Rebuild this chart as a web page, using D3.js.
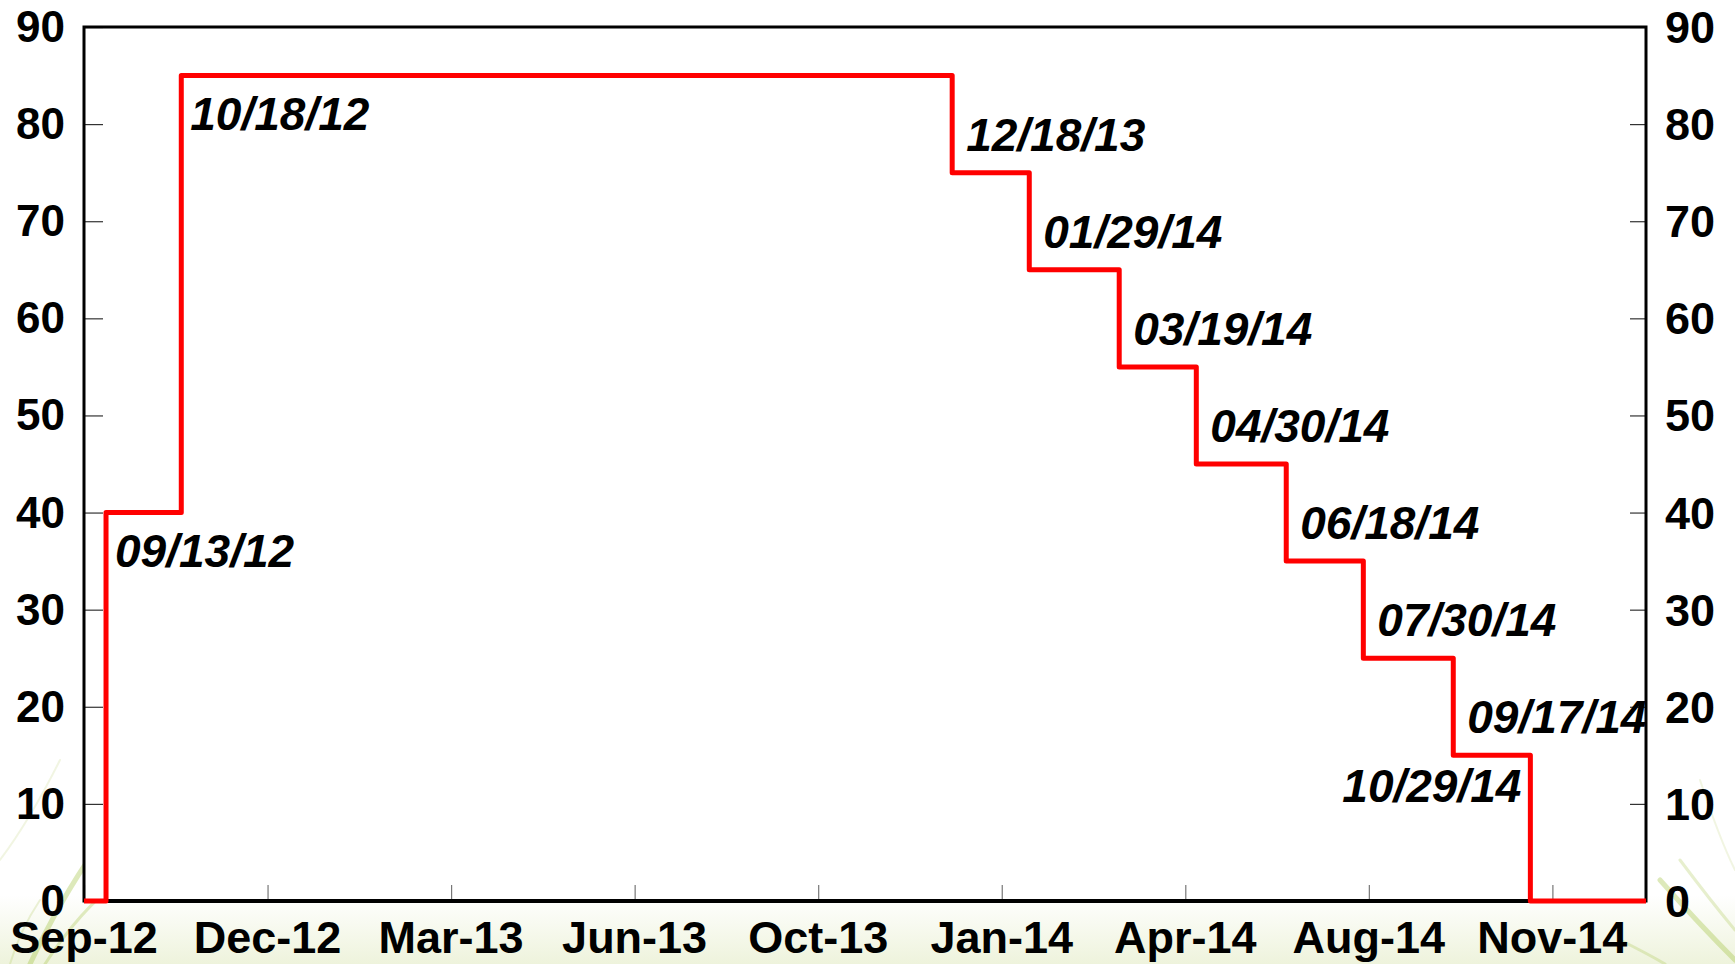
<!DOCTYPE html>
<html>
<head>
<meta charset="utf-8">
<script src="https://cdn.jsdelivr.net/npm/d3@7"></script>
<style>
  html, body { margin: 0; padding: 0; background: #ffffff; }
  svg { display: block; }
  text { font-family: "Liberation Sans", Arial, sans-serif; font-weight: bold; fill: #000; }
</style>
</head>
<body>
<svg id="chart" width="1735" height="964"></svg>
<script>
// ---- data ----
const stepDates  = ["2012-09-01", "2012-09-13", "2012-10-24", "2013-12-18", "2014-01-29", "2014-03-19",
                    "2014-04-30", "2014-06-18", "2014-07-30", "2014-09-17", "2014-10-29", "2014-12-31"];
const stepValues = [0, 40, 85, 75, 65, 55, 45, 35, 25, 15, 0, 0];
const stepLabels = ["", "09/13/12", "10/18/12", "12/18/13", "01/29/14", "03/19/14",
                    "04/30/14", "06/18/14", "07/30/14", "09/17/14", "10/29/14", ""];
const xDomain    = ["2012-09-01", "2014-12-31"];
const xTickDates = ["2012-09-01", "2012-12-10", "2013-03-20", "2013-06-28", "2013-10-06",
                    "2014-01-14", "2014-04-24", "2014-08-02", "2014-11-10"];
const xTickLabels = ["Sep-12", "Dec-12", "Mar-13", "Jun-13", "Oct-13", "Jan-14", "Apr-14", "Aug-14", "Nov-14"];
const yTicks     = [0, 10, 20, 30, 40, 50, 60, 70, 80, 90];

// ---- layout ----
const W = 1735, H = 964;
const L = 84, R = 1646, T = 27, B = 901;
const parse = d3.utcParse("%Y-%m-%d");

const svg = d3.select("#chart");

// background decoration (slide background)
const defs = svg.append("defs");
const grad = defs.append("linearGradient").attr("id", "bgGrad")
  .attr("x1", 0).attr("y1", 0).attr("x2", 0).attr("y2", 1);
grad.append("stop").attr("offset", "0%").attr("stop-color", "#ffffff");
grad.append("stop").attr("offset", "100%").attr("stop-color", "#eef3dc");
svg.append("rect").attr("x", 0).attr("y", 0).attr("width", W).attr("height", H).attr("fill", "#ffffff");
svg.append("rect").attr("x", 0).attr("y", 895).attr("width", W).attr("height", H - 895).attr("fill", "url(#bgGrad)");

const deco = svg.append("g").attr("fill", "none").attr("stroke-linecap", "round");
const grass = [
  {d: "M30,964 Q60,900 95,850", w: 5, o: 0.35},
  {d: "M45,964 Q80,910 120,880", w: 3, o: 0.3},
  {d: "M0,860 Q30,820 60,760", w: 2, o: 0.15},
  {d: "M10,964 Q20,930 40,900", w: 2, o: 0.2},
  {d: "M1660,880 Q1700,925 1735,960", w: 5, o: 0.35},
  {d: "M1680,860 Q1710,900 1735,930", w: 3, o: 0.25},
  {d: "M1620,940 Q1650,955 1665,964", w: 3, o: 0.25},
  {d: "M1700,780 Q1720,840 1735,870", w: 2, o: 0.15}
];
grass.forEach(g => deco.append("path").attr("d", g.d).attr("stroke", "#9fbf3a")
  .attr("stroke-width", g.w).attr("opacity", g.o));

// plot area
svg.append("rect").attr("x", L).attr("y", T).attr("width", R - L).attr("height", B - T).attr("fill", "#ffffff");

// scales
const x = d3.scaleUtc().domain(xDomain.map(parse)).range([L, R]);
const y = d3.scaleLinear().domain([0, 90]).range([B, T]);

// axes ticks (drawn inward)
const yAxisL = d3.axisRight(y).tickValues(yTicks).tickSize(19).tickFormat("");
const gyl = svg.append("g").attr("transform", `translate(${L},0)`).call(yAxisL);
gyl.select(".domain").remove();
gyl.selectAll("line").attr("stroke", "#333").attr("stroke-width", 1.2);

const yAxisR = d3.axisLeft(y).tickValues(yTicks).tickSize(16).tickFormat("");
const gyr = svg.append("g").attr("transform", `translate(${R},0)`).call(yAxisR);
gyr.select(".domain").remove();
gyr.selectAll("line").attr("stroke", "#333").attr("stroke-width", 1.2);

const xAxis = d3.axisTop(x).tickValues(xTickDates.map(parse)).tickSize(16).tickFormat("");
const gx = svg.append("g").attr("transform", `translate(0,${B})`).call(xAxis);
gx.select(".domain").remove();
gx.selectAll("line").attr("stroke", "#777").attr("stroke-width", 1.2);

// frame
svg.append("rect").attr("x", L).attr("y", T).attr("width", R - L).attr("height", B - T)
  .attr("fill", "none").attr("stroke", "#000").attr("stroke-width", 3);
svg.append("line").attr("x1", L).attr("x2", R).attr("y1", B).attr("y2", B)
  .attr("stroke", "#000").attr("stroke-width", 4);

// axis labels
svg.append("g").selectAll("text").data(yTicks).join("text")
  .attr("x", L - 19).attr("y", d => y(d) + 15)
  .attr("text-anchor", "end").attr("font-size", 44).text(d => d);
svg.append("g").selectAll("text").data(yTicks).join("text")
  .attr("x", R + 19).attr("y", d => y(d) + 16)
  .attr("text-anchor", "start").attr("font-size", 45).text(d => d);
svg.append("g").selectAll("text").data(xTickDates.map((d, i) => ({d: parse(d), lab: xTickLabels[i]}))).join("text")
  .attr("x", d => x(d.d)).attr("y", 953)
  .attr("text-anchor", "middle").attr("font-size", 45).text(d => d.lab);

// series
const series = stepDates.map((d, i) => ({date: parse(d), value: stepValues[i], label: stepLabels[i]}));
const line = d3.line().x(d => x(d.date)).y(d => y(d.value)).curve(d3.curveStepAfter);
svg.append("path").datum(series).attr("d", line)
  .attr("fill", "none").attr("stroke", "#ff0000").attr("stroke-width", 5)
  .attr("stroke-linejoin", "round");

// step labels
const lab = svg.append("g").attr("font-style", "italic");
series.forEach((p, i) => {
  if (!p.label) return;
  const prev = series[i - 1].value;
  let tx, ty, anchor = "start";
  if (p.value > prev) {            // up step: label below the new level, right of the riser
    tx = x(p.date) + 9; ty = y(p.value) + 54;
  } else if (p.value === 0) {      // final drop: label left of the riser, below old level
    tx = x(p.date) - 9; ty = y(prev) + 47; anchor = "end";
  } else {                         // down step: label above the new level, right of the riser
    tx = x(p.date) + 14; ty = y(p.value) - 22;
  }
  lab.append("text").attr("x", tx).attr("y", ty).attr("text-anchor", anchor)
    .attr("font-size", 46).text(p.label);
});
</script>
</body>
</html>
